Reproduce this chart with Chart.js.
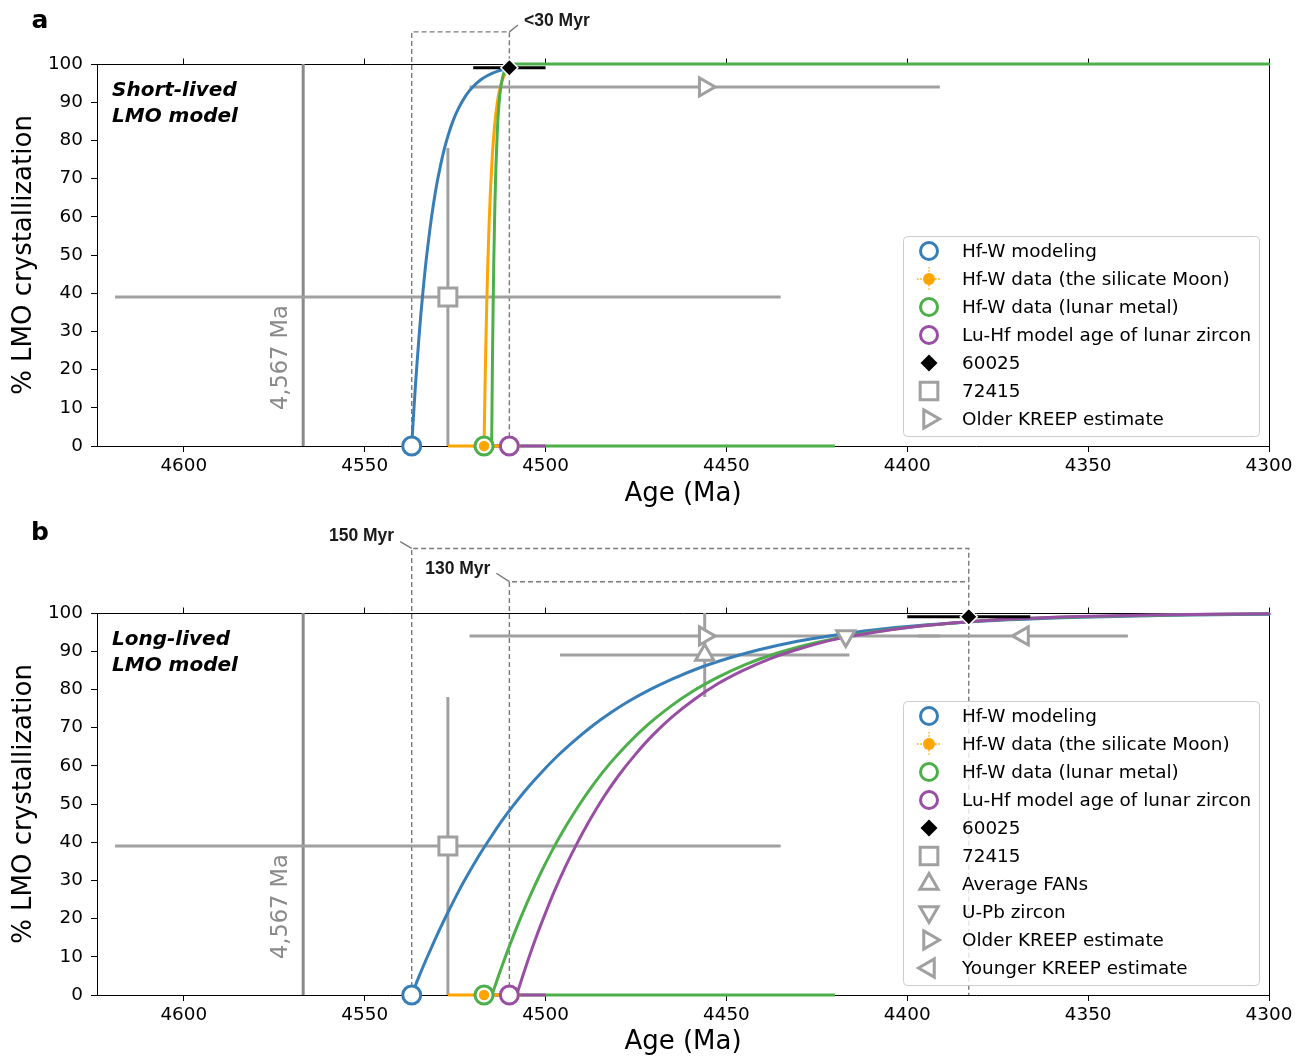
<!DOCTYPE html>
<html>
<head>
<meta charset="utf-8">
<script src="https://cdn.jsdelivr.net/npm/chart.js"></script>
<style>
html, body { margin: 0; padding: 0; background: #ffffff; }
#wrap { position: relative; width: 1296px; height: 1058px; background: #ffffff; }
canvas { position: absolute; left: 0; }
</style>
</head>
<body>
<div id="wrap">
  <canvas id="chartA" width="1296" height="520" style="top:0px"></canvas>
  <canvas id="chartB" width="1296" height="538" style="top:520px"></canvas>
</div>
<script>
// ---------------- DATA ----------------
const xTickValues = [4600, 4550, 4500, 4450, 4400, 4350, 4300];
const yTickValues = [0, 10, 20, 30, 40, 50, 60, 70, 80, 90, 100];
const ageMin = 4300, ageMax = 4624;

// Panel a: short-lived LMO model curves (age in Ma, % crystallized)
const ageBlueA = [4537, 4536.5, 4536, 4535.5, 4535, 4534.5, 4534, 4533.5, 4533, 4532, 4531, 4530, 4529, 4528, 4527, 4525.5, 4524, 4522, 4520, 4518, 4516, 4513, 4510];
const pctBlueA = [0, 8.0, 15.4, 22.1, 28.3, 34.1, 39.3, 44.2, 48.7, 56.5, 63.2, 68.9, 73.6, 77.7, 81.1, 85.3, 88.5, 91.8, 94.1, 95.8, 97.0, 98.2, 98.9];
const ageOrangeA = [4517, 4516.75, 4516.5, 4516.25, 4516, 4515.6, 4515.2, 4514.7, 4514.1, 4513.4, 4512.6, 4511.7, 4510.7, 4510];
const pctOrangeA = [0, 14.5, 26.8, 37.4, 46.5, 58.3, 67.5, 76.2, 83.7, 89.5, 93.6, 96.4, 98.0, 98.7];
const ageGreenA = [4514.9, 4514.7, 4514.5, 4514.3, 4514.0, 4513.7, 4513.3, 4512.9, 4512.4, 4511.9, 4511.3, 4510.5, 4509.7, 4509.0, 4300];
const pctGreenA = [0, 19.9, 35.9, 48.7, 63.2, 73.6, 83.1, 89.2, 93.8, 96.4, 98.2, 99.2, 99.7, 100, 100];

// Panel b: long-lived LMO model curves
const ageBlueB = [4537, 4535, 4533, 4531, 4529, 4527, 4524, 4521, 4518, 4515, 4512, 4509, 4505, 4501, 4497, 4492, 4487, 4482, 4477, 4471, 4465, 4457, 4449, 4441, 4432, 4422, 4412, 4400, 4387, 4372, 4352, 4327, 4300];
const pctBlueB = [0, 4.8, 9.3, 13.6, 17.7, 21.6, 27.2, 32.3, 37.1, 41.5, 45.7, 49.5, 54.2, 58.4, 62.3, 66.6, 70.5, 73.9, 76.9, 80.0, 82.7, 85.8, 88.3, 90.4, 92.3, 93.9, 95.3, 96.5, 97.4, 98.2, 98.9, 99.4, 99.7];
const ageGreenB = [4514.8, 4513.3, 4511.3, 4509.3, 4506.8, 4504.3, 4501.3, 4498.3, 4494.8, 4490.8, 4486.8, 4482.3, 4477.3, 4471.8, 4465.8, 4459.3, 4452.3, 4444.8, 4436.3, 4426.8, 4416.3, 4404.8, 4391.8, 4376.8, 4359.8, 4339.8, 4319.8, 4300];
const pctGreenB = [0, 4.2, 9.5, 14.5, 20.4, 25.9, 32.0, 37.6, 43.5, 49.6, 55.1, 60.5, 65.7, 70.7, 75.3, 79.5, 83.2, 86.5, 89.4, 91.9, 94.0, 95.7, 97.0, 98.1, 98.8, 99.3, 99.6, 99.8];
const agePurpleB = [4508, 4506.5, 4504.5, 4502.5, 4500, 4497.5, 4494.5, 4491.5, 4488, 4484, 4480, 4475.5, 4470.5, 4465, 4459, 4452.5, 4445.5, 4438, 4429.5, 4420, 4409.5, 4398, 4385, 4370, 4353, 4333, 4300];
const pctPurpleB = [0, 4.4, 10.1, 15.4, 21.5, 27.3, 33.6, 39.3, 45.4, 51.7, 57.2, 62.6, 67.9, 72.8, 77.3, 81.4, 84.9, 88.0, 90.7, 93.1, 94.9, 96.4, 97.6, 98.5, 99.1, 99.5, 99.8];

// Point data [age, pct] and error ranges
const hfwModeling = [4537, 0];
const hfwSilicate = [4517, 0];
const hfwSilicateAgeErr = [4527, 4507];
const hfwMetal = [4517, 0];
const hfwMetalAgeErr = [4517, 4420];
const luhfZircon = [4510, 0];
const luhfZirconAgeErr = [4520, 4500];
const s60025A = [4510, 99];
const s60025AAgeErr = [4520, 4500];
const s60025B = [4383, 99];
const s60025BAgeErr = [4400, 4366];
const s72415 = [4527, 39];
const s72415AgeErr = [4619, 4435];
const s72415PctErr = [0, 78];
const olderKreep = [4456, 94];
const olderKreepAgeErr = [4521, 4391];
const youngerKreep = [4368, 94];
const youngerKreepAgeErr = [4397, 4339];
const avgFans = [4456, 89];
const avgFansAgeErr = [4496, 4416];
const avgFansPctErr = [78, 100];
const upbZircon = [4417, 94];
const solarSystemAge = 4567;

// Duration brackets (ages of the bracket ends, bracket heights in % units)
const bracketA = { ages: [4537, 4537, 4510, 4510], pcts: [0, 108.4, 108.4, 0] };
const leaderA = { ages: [4510, 4507.6], pcts: [108.4, 110.2] };
const bracket150 = { ages: [4537, 4537, 4383, 4383], pcts: [0, 116.9, 116.9, 0] };
const leader150 = { ages: [4540.2, 4537], pcts: [118.7, 116.9] };
const bracket130 = { ages: [4510, 4510, 4383], pcts: [0, 108.2, 108.2] };
const leader130 = { ages: [4513.6, 4510], pcts: [110.4, 108.2] };

// ---------------- STYLE ----------------
const C_BLUE = '#377eb8', C_ORANGE = '#ffa500', C_GREEN = '#4daf4a', C_PURPLE = '#984ea3';
const C_GRAY = '#a0a0a0', C_SOLAR = '#8a8a8a', C_DASH = '#7a7a7a';
const FONT = 'DejaVu Sans';

function pts(ages, pcts) { return ages.map((a, i) => ({ x: a, y: pcts[i] })); }
function hseg(range, pct) { return [{ x: range[0], y: pct }, { x: range[1], y: pct }]; }
function vseg(age, range) { return [{ x: age, y: range[0] }, { x: age, y: range[1] }]; }

function lineDS(data, color, width, extra) {
  return Object.assign({
    data, showLine: true, borderColor: color, borderWidth: width,
    pointRadius: 0, pointHoverRadius: 0, fill: false, clip: false, tension: 0,
    borderCapStyle: 'butt'
  }, extra || {});
}
function curveDS(ages, pcts, color) {
  return lineDS(pts(ages, pcts), color, 3, { cubicInterpolationMode: 'monotone', borderCapStyle: 'round', borderJoinStyle: 'round' });
}
function dashDS(obj) { return lineDS(pts(obj.ages, obj.pcts), C_DASH, 1.4, { borderDash: [5, 3] }); }
function markerDS(p, style, radius, fill, stroke, bw, rot) {
  return {
    data: [{ x: p[0], y: p[1] }], showLine: false, pointStyle: style, pointRadius: radius,
    pointHoverRadius: radius, pointBackgroundColor: fill, pointBorderColor: stroke,
    pointBorderWidth: bw, pointRotation: rot || 0, clip: false
  };
}

const M = {
  circle: (p, c) => markerDS(p, 'circle', 9, '#ffffff', c, 3),
  orangeDot: (p) => markerDS(p, 'circle', 6, C_ORANGE, '#ffffff', 1.5),
  diamond: (p) => markerDS(p, 'rectRot', 8.5, '#000000', '#ffffff', 1.5),
  square: (p) => markerDS(p, 'rect', 12.7, '#ffffff', C_GRAY, 3),
  tri: (p, rot) => markerDS(p, 'triangle', 10.5, '#ffffff', C_GRAY, 3, rot)
};

// ---------------- PLUGIN ----------------
function alignPx(v) { return Math.round(v - 0.5) + 0.5; }

const legendEntries = {
  circleBlue: { kind: 'circle', color: C_BLUE, text: 'Hf-W modeling' },
  orange: { kind: 'orange', text: 'Hf-W data (the silicate Moon)' },
  circleGreen: { kind: 'circle', color: C_GREEN, text: 'Hf-W data (lunar metal)' },
  circlePurple: { kind: 'circle', color: C_PURPLE, text: 'Lu-Hf model age of lunar zircon' },
  diamond: { kind: 'diamond', text: '60025' },
  square: { kind: 'square', text: '72415' },
  triUp: { kind: 'tri', rot: 0, text: 'Average FANs' },
  triDown: { kind: 'tri', rot: 180, text: 'U-Pb zircon' },
  triRight: { kind: 'tri', rot: 90, text: 'Older KREEP estimate' },
  triLeft: { kind: 'tri', rot: 270, text: 'Younger KREEP estimate' }
};

function drawGlyph(ctx, e, cx, cy) {
  const dp = Chart.helpers.drawPoint;
  ctx.save();
  ctx.setLineDash([]);
  if (e.kind === 'circle') {
    ctx.fillStyle = '#ffffff'; ctx.strokeStyle = e.color; ctx.lineWidth = 3;
    dp(ctx, { pointStyle: 'circle', radius: 8.5, borderWidth: 3, rotation: 0 }, cx, cy);
  } else if (e.kind === 'orange') {
    ctx.strokeStyle = C_ORANGE; ctx.lineWidth = 1.3; ctx.setLineDash([1.6, 1.6]);
    ctx.beginPath();
    ctx.moveTo(cx, cy - 12); ctx.lineTo(cx, cy - 6);
    ctx.moveTo(cx, cy + 6); ctx.lineTo(cx, cy + 12);
    ctx.moveTo(cx - 12, cy); ctx.lineTo(cx - 6, cy);
    ctx.moveTo(cx + 6, cy); ctx.lineTo(cx + 12, cy);
    ctx.stroke();
    ctx.setLineDash([]);
    ctx.fillStyle = C_ORANGE;
    dp(ctx, { pointStyle: 'circle', radius: 6, borderWidth: 0, rotation: 0 }, cx, cy);
  } else if (e.kind === 'diamond') {
    ctx.fillStyle = '#000000'; ctx.strokeStyle = '#000000';
    dp(ctx, { pointStyle: 'rectRot', radius: 8.5, borderWidth: 0, rotation: 0 }, cx, cy);
  } else if (e.kind === 'square') {
    ctx.fillStyle = '#ffffff'; ctx.strokeStyle = C_GRAY; ctx.lineWidth = 3;
    dp(ctx, { pointStyle: 'rect', radius: 12.5, borderWidth: 3, rotation: 0 }, cx, cy);
  } else if (e.kind === 'tri') {
    ctx.fillStyle = '#ffffff'; ctx.strokeStyle = C_GRAY; ctx.lineWidth = 3;
    dp(ctx, { pointStyle: 'triangle', radius: 10.5, borderWidth: 3, rotation: e.rot }, cx, cy);
  }
  ctx.restore();
}

const decor = {
  id: 'decor',
  beforeDatasetsDraw(chart, args, o) {
    const { ctx, chartArea: ca } = chart;
    const xs = chart.scales.x;
    ctx.save();
    // top & right spines, top ticks
    ctx.strokeStyle = '#000000'; ctx.lineWidth = 1;
    ctx.beginPath();
    const t = alignPx(ca.top), r = alignPx(ca.right);
    ctx.moveTo(ca.left, t); ctx.lineTo(ca.right + 0.5, t);
    ctx.moveTo(r, ca.top); ctx.lineTo(r, ca.bottom + 1);
    xTickValues.forEach(v => {
      const px = alignPx(xs.getPixelForValue(v));
      ctx.moveTo(px, t); ctx.lineTo(px, t - 6);
    });
    ctx.stroke();
    // panel letter
    ctx.fillStyle = '#000000';
    ctx.font = 'bold 25px "' + FONT + '"';
    ctx.textAlign = 'center'; ctx.textBaseline = 'alphabetic';
    ctx.fillText(o.panel, 40, o.panelBaseline);
    // model label
    ctx.font = 'italic bold 20px "' + FONT + '"';
    ctx.textAlign = 'left';
    ctx.fillText(o.model[0], ca.left + 15, ca.top + 32);
    ctx.fillText(o.model[1], ca.left + 15, ca.top + 58);
    // 4,567 Ma label
    const sx = xs.getPixelForValue(solarSystemAge);
    ctx.save();
    ctx.translate(sx - 22, ca.bottom - 36);
    ctx.rotate(-Math.PI / 2);
    ctx.fillStyle = C_SOLAR;
    ctx.font = '22.5px "' + FONT + '"';
    ctx.textAlign = 'left'; ctx.textBaseline = 'middle';
    ctx.fillText('4,567 Ma', 0, 0);
    ctx.restore();
    ctx.restore();
  },
  afterDatasetsDraw(chart, args, o) {
    const { ctx, chartArea: ca } = chart;
    const xs = chart.scales.x, ys = chart.scales.y;
    ctx.save();
    // bracket labels
    ctx.fillStyle = '#1a1a1a';
    ctx.font = 'bold 17.5px "Liberation Sans", Arial, sans-serif';
    ctx.textBaseline = 'middle';
    o.labels.forEach(l => {
      const px = xs.getPixelForValue(l.age), py = ys.getPixelForValue(l.pct);
      ctx.textAlign = l.align;
      ctx.fillText(l.text, px + l.dx, py + l.dy);
    });
    // legend
    const n = o.legend.length;
    const w = 356, h = 28 * n + 4;
    const bx = ca.right - 10 - w, by = ca.bottom - 10 - h;
    ctx.beginPath();
    ctx.roundRect(bx + 0.5, by + 0.5, w, h, 4);
    ctx.fillStyle = 'rgba(255,255,255,0.8)';
    ctx.fill();
    ctx.strokeStyle = '#cccccc'; ctx.lineWidth = 1;
    ctx.stroke();
    o.legend.forEach((key, i) => {
      const e = legendEntries[key];
      const cy = by + 15 + 28 * i;
      drawGlyph(ctx, e, bx + 26, cy);
      ctx.fillStyle = '#000000';
      ctx.font = '18.4px "' + FONT + '"';
      ctx.textAlign = 'left'; ctx.textBaseline = 'middle';
      ctx.fillText(e.text, bx + 59, cy + 1);
    });
    ctx.restore();
  }
};

// ---------------- CHARTS ----------------
function makeChart(id, datasets, deco, padTop, xHeight, titlePadBottom) {
  datasets.forEach((d, i) => { d.order = datasets.length - i; });
  return new Chart(document.getElementById(id), {
    type: 'scatter',
    data: { datasets },
    options: {
      responsive: false, animation: false, devicePixelRatio: 1, events: [],
      layout: { padding: { left: 0, right: 27, top: padTop, bottom: 0 } },
      plugins: { legend: { display: false }, tooltip: { enabled: false }, decor: deco },
      scales: {
        x: {
          type: 'linear', position: 'bottom', reverse: true, min: ageMin, max: ageMax,
          afterBuildTicks: s => { s.ticks = xTickValues.map(v => ({ value: v })); },
          afterFit: s => { s.height = xHeight; },
          ticks: { color: '#000000', font: { family: FONT, size: 18.4 }, padding: 3, maxRotation: 0, autoSkip: false, callback: v => String(v) },
          grid: { drawOnChartArea: false, drawTicks: true, tickLength: 6, color: '#000000', lineWidth: 1 },
          border: { display: true, color: '#000000', width: 1 },
          title: { display: true, text: 'Age (Ma)', color: '#000000', font: { family: FONT, size: 26, lineHeight: 1 }, padding: { top: 0, bottom: titlePadBottom } }
        },
        y: {
          type: 'linear', position: 'left', min: 0, max: 100,
          afterBuildTicks: s => { s.ticks = yTickValues.map(v => ({ value: v })); },
          afterFit: s => { s.width = 97; },
          ticks: { color: '#000000', font: { family: FONT, size: 18.4 }, padding: 8, autoSkip: false, callback: v => String(v) },
          grid: { drawOnChartArea: false, drawTicks: true, tickLength: 6, color: '#000000', lineWidth: 1 },
          border: { display: true, color: '#000000', width: 1 },
          title: { display: true, text: '% LMO crystallization', color: '#000000', font: { family: FONT, size: 26, lineHeight: 1 }, padding: { top: 11, bottom: 0 } }
        }
      }
    },
    plugins: [decor]
  });
}

// Panel a
const dsA = [
  lineDS(vseg(solarSystemAge, [0, 100]), C_SOLAR, 3),
  dashDS(bracketA),
  lineDS(pts(leaderA.ages, leaderA.pcts), C_DASH, 1.4),
  lineDS(hseg(s72415AgeErr, s72415[1]), C_GRAY, 3),
  lineDS(vseg(s72415[0], s72415PctErr), C_GRAY, 3),
  lineDS(hseg(olderKreepAgeErr, olderKreep[1]), C_GRAY, 3),
  lineDS(hseg(hfwMetalAgeErr, 0), C_GREEN, 3),
  lineDS(hseg(luhfZirconAgeErr, 0), C_PURPLE, 3),
  lineDS(hseg(hfwSilicateAgeErr, 0), C_ORANGE, 3),
  curveDS(ageBlueA, pctBlueA, C_BLUE),
  curveDS(ageOrangeA, pctOrangeA, C_ORANGE),
  curveDS(ageGreenA, pctGreenA, C_GREEN),
  M.square(s72415),
  M.tri(olderKreep, 90),
  lineDS(hseg(s60025AAgeErr, s60025A[1]), '#000000', 3),
  M.diamond(s60025A),
  M.circle(hfwModeling, C_BLUE),
  M.circle(hfwMetal, C_GREEN),
  M.orangeDot(hfwSilicate),
  M.circle(luhfZircon, C_PURPLE)
];
makeChart('chartA', dsA, {
  panel: 'a', panelBaseline: 28, model: ['Short-lived', 'LMO model'],
  labels: [{ text: '<30 Myr', age: leaderA.ages[1], pct: leaderA.pcts[1], dx: 6, dy: -4, align: 'left' }],
  legend: ['circleBlue', 'orange', 'circleGreen', 'circlePurple', 'diamond', 'square', 'triRight']
}, 64, 74, 13);

// Panel b
const dsB = [
  lineDS(vseg(solarSystemAge, [0, 100]), C_SOLAR, 3),
  dashDS(bracket150),
  dashDS(bracket130),
  lineDS(pts(leader150.ages, leader150.pcts), C_DASH, 1.4),
  lineDS(pts(leader130.ages, leader130.pcts), C_DASH, 1.4),
  lineDS(hseg(s72415AgeErr, s72415[1]), C_GRAY, 3),
  lineDS(vseg(s72415[0], s72415PctErr), C_GRAY, 3),
  lineDS(hseg(avgFansAgeErr, avgFans[1]), C_GRAY, 3),
  lineDS(vseg(avgFans[0], avgFansPctErr), C_GRAY, 3),
  lineDS(hseg(olderKreepAgeErr, olderKreep[1]), C_GRAY, 3),
  lineDS(hseg(youngerKreepAgeErr, youngerKreep[1]), C_GRAY, 3),
  lineDS(hseg(hfwMetalAgeErr, 0), C_GREEN, 3),
  lineDS(hseg(luhfZirconAgeErr, 0), C_PURPLE, 3),
  lineDS(hseg(hfwSilicateAgeErr, 0), C_ORANGE, 3),
  curveDS(ageBlueB, pctBlueB, C_BLUE),
  curveDS(ageGreenB, pctGreenB, C_GREEN),
  curveDS(agePurpleB, pctPurpleB, C_PURPLE),
  M.square(s72415),
  M.tri(avgFans, 0),
  M.tri(upbZircon, 180),
  M.tri(olderKreep, 90),
  M.tri(youngerKreep, 270),
  lineDS(hseg(s60025BAgeErr, s60025B[1]), '#000000', 3),
  M.diamond(s60025B),
  M.circle(hfwModeling, C_BLUE),
  M.circle(hfwMetal, C_GREEN),
  M.orangeDot(hfwSilicate),
  M.circle(luhfZircon, C_PURPLE)
];
makeChart('chartB', dsB, {
  panel: 'b', panelBaseline: 20, model: ['Long-lived', 'LMO model'],
  labels: [
    { text: '150 Myr', age: leader150.ages[0], pct: leader150.pcts[0], dx: -6, dy: -5, align: 'right' },
    { text: '130 Myr', age: leader130.ages[0], pct: leader130.pcts[0], dx: -6, dy: -4, align: 'right' }
  ],
  legend: ['circleBlue', 'orange', 'circleGreen', 'circlePurple', 'diamond', 'square', 'triUp', 'triDown', 'triRight', 'triLeft']
}, 93, 63, 3);
</script>
</body>
</html>
